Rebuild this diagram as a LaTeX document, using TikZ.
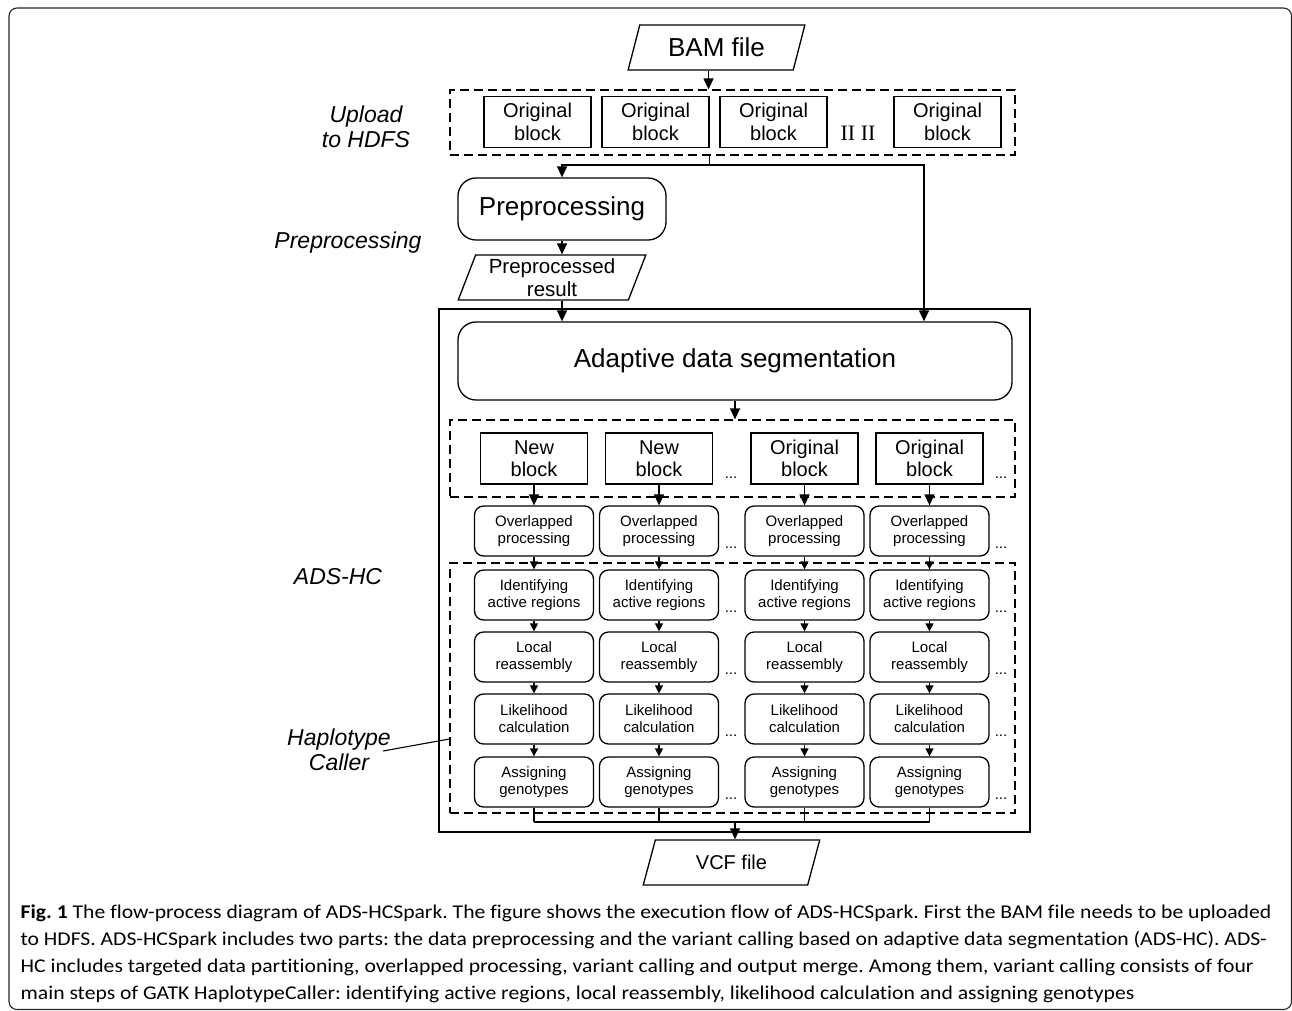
\documentclass[tikz,border=0pt]{standalone}
\usepackage{fontspec}
\setmainfont{Liberation Sans}
\newfontfamily\capfont[FakeStretch=1.11,Ligatures=NoCommon]{Carlito}
\newfontfamily\serifII{Liberation Serif}
\usetikzlibrary{arrows.meta,shapes.geometric}
\frenchspacing
\tikzset{
  blk/.style={draw, rectangle, minimum width=107pt, minimum height=51pt, inner sep=0pt, align=center, font=\fontsize{20}{22.5}\selectfont},
  rbx/.style={draw, rounded corners=9pt, minimum width=119pt, minimum height=50pt, inner sep=0pt, align=center, font=\fontsize{15}{17}\selectfont},
  bigr/.style={draw, rounded corners=18pt, inner sep=0pt, align=center, font=\fontsize{26}{28}\selectfont},
  io/.style={draw, trapezium, trapezium left angle=69, trapezium right angle=111, trapezium stretches=true, minimum height=45pt, inner sep=0pt, align=center},
  grp/.style={draw, dash pattern=on 9pt off 5pt, inner sep=0pt},
  arr/.style={-{Triangle[length=11pt,width=10pt]}},
  sarr/.style={-{Triangle[length=8pt,width=8pt]}},
  lbl/.style={font=\fontsize{23}{25}\selectfont\itshape, align=center},
  dots/.style={font=\fontsize{15}{17}\selectfont, inner sep=0pt},
  capl/.style={anchor=base west, inner sep=0pt, font=\capfont\fontsize{19.5}{22}\selectfont}
}
\begin{document}
\begin{tikzpicture}[x=1pt,y=-1pt,line width=1.3pt]
\useasboundingbox (0,0) rectangle (1292,1010);
\begin{scope}
\clip (0,0) rectangle (1292,1010);
\draw[line width=1.1pt, rounded corners=8pt, black!85] (9,8) rectangle (1291.5,1009.5);
\end{scope}

% top part
\node[io, minimum width=177pt, font=\fontsize{26}{28}\selectfont] (bam) at (716.5,47.5) {BAM file};
\node[grp, minimum width=565pt, minimum height=65pt] (up) at (732.5,122.5) {};
\node[blk] (b1) at (537.5,122) {Original\\block};
\node[blk] (b2) at (655.5,122) {Original\\block};
\node[blk] (b3) at (773.5,122) {Original\\block};
\node[font=\serifII\fontsize{22}{24}\selectfont, inner sep=0pt] (ii) at (858,133) {II II};
\node[blk] (b4) at (947.5,122) {Original\\block};
\node[lbl] (lup) at (366,127) {Upload\\to HDFS};

\node[bigr, minimum width=208pt, minimum height=62pt] (pre) at (562,209) {Preprocessing};
\node[lbl] (lpre) at (348,243) {Preprocessing};
\node[io, minimum width=188pt, font=\fontsize{20.5}{22.5}\selectfont] (pres) at (552,277.5) {Preprocessed\\result};

% ADS-HC frame
\node[draw, minimum width=591pt, minimum height=523pt, inner sep=0pt] (frame) at (734.5,570.5) {};
\node[bigr, minimum width=554pt, minimum height=78pt] (ads) at (735,361) {Adaptive data segmentation};
\node[grp, minimum width=565pt, minimum height=77pt] (nbg) at (732.5,458.5) {};
\node[grp, minimum width=565pt, minimum height=250pt] (hcg) at (732.5,688) {};
\node[lbl] (lads) at (338,577) {ADS-HC};
\node[lbl] (lhc) at (339,750) {Haplotype\\Caller};

% columns
\node[blk] (n1) at (534,458.5) {New\\block};
\node[blk] (n2) at (659,458.5) {New\\block};
\node[blk] (n3) at (804.5,458.5) {Original\\block};
\node[blk] (n4) at (929.5,458.5) {Original\\block};
\node[dots] (dn2) at (731,478) {...};
\node[dots] (dn4) at (1001,478) {...};

\foreach \r/\y/\t in {o/531/{Overlapped\\processing}, d/595/{Identifying\\active regions}, l/657/{Local\\reassembly}, k/719/{Likelihood\\calculation}, a/782/{Assigning\\genotypes}}{
  \node[rbx] (\r1) at (534,\y) {\t};
  \node[rbx] (\r2) at (659,\y) {\t};
  \node[rbx] (\r3) at (804.5,\y) {\t};
  \node[rbx] (\r4) at (929.5,\y) {\t};
  \node[dots] (\r dA) at (731,\y+17) {...};
  \node[dots] (\r dB) at (1001,\y+17) {...};
}

\node[io, minimum width=177pt, font=\fontsize{20}{22}\selectfont] (vcf) at (731.5,862.5) {VCF file};

% connectors top
\draw[arr] ([xshift=-8pt]bam.south) -- ([xshift=-8pt]bam.south |- up.north);
\coordinate (sp) at (b2.east |- 0,165);
\coordinate (rt) at (924,165);
\draw (b2.east |- up.south) -- (sp);
\draw[arr] (sp) -| (pre.north);
\draw[arr] (sp) -- (rt) -- (rt |- ads.north);
\draw[arr] (pre.south) -- (pre.south |- pres.north);
\draw[arr] (pre.south |- pres.south) -- (pre.south |- ads.north);
\draw[arr] (ads.south) -- (ads.south |- nbg.north);

\foreach \i in {1,2,3,4}{
  \draw[arr] (n\i.south) -- (o\i.north);
  \draw[sarr] (o\i.south) -- (d\i.north);
  \draw[sarr] (d\i.south) -- (l\i.north);
  \draw[sarr] (l\i.south) -- (k\i.north);
  \draw[sarr] (k\i.south) -- (a\i.north);
}
\coordinate (mg) at (735,822);
\foreach \i in {1,2,3,4}{ \draw (a\i.south) -- (a\i.south |- mg); }
\draw (a1.south |- mg) -- (a4.south |- mg);
\draw[arr] (mg) -- (mg |- vcf.north);

\coordinate (hy) at (0,739);
\coordinate (hl) at (383,751);
\draw[line width=1.1pt] (hl) -- (hcg.west |- hy);

% caption
\node[capl] (c1) at (20,918) {\textbf{Fig. 1} The flow-process diagram of ADS-HCSpark. The figure shows the execution flow of ADS-HCSpark. First the BAM file needs to be uploaded};
\node[capl] (c2) at (20,945) {to HDFS. ADS-HCSpark includes two parts: the data preprocessing and the variant calling based on adaptive data segmentation (ADS-HC). ADS-};
\node[capl] (c3) at (20,972) {HC includes targeted data partitioning, overlapped processing, variant calling and output merge. Among them, variant calling consists of four};
\node[capl] (c4) at (20,999) {main steps of GATK HaplotypeCaller: identifying active regions, local reassembly, likelihood calculation and assigning genotypes};
\end{tikzpicture}
\end{document}
